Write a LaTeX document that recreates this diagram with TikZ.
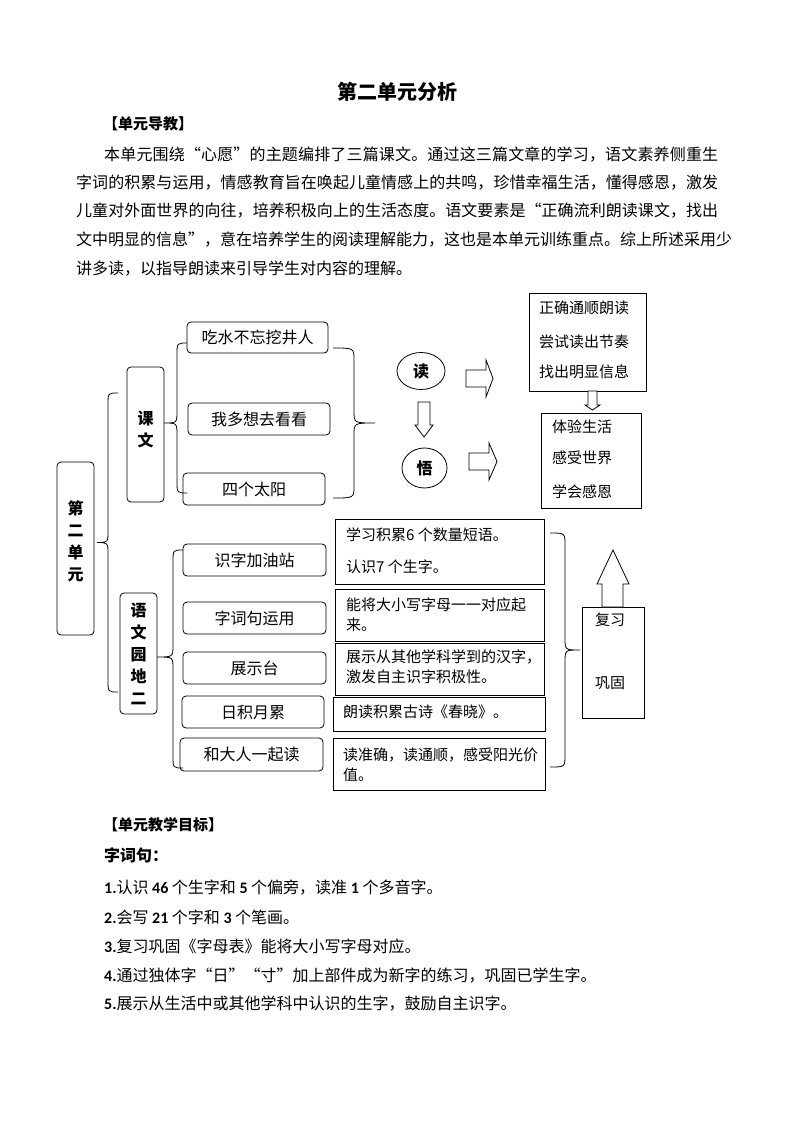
\documentclass[tikz,border=0pt]{standalone}
\usepackage{fontspec}
\setmainfont{Noto Sans CJK SC}
\newfontfamily\lat{Carlito}
\usetikzlibrary{shapes.geometric}
\newcommand\myfs[1]{\fontsize{#1}{#1}\selectfont}
\newcommand\dg[1]{{\lat\bfseries #1}}
% spread characters of a line over a given width
\def\spreadchars#1#2\relax{#1\spreadB#2\relax}
\def\spreadB#1{\ifx#1\relax\else\hskip0pt plus 1fil #1\expandafter\spreadB\fi}
\newcommand\jline[2]{\hbox to #1{\spreadchars#2\relax}}
% brace: #1 end x, #2 top y, #3 spine x, #4 tip x, #5 tip y, #6 bottom y
\newcommand\mybrace[6]{%
  \draw[ln] (#1,#2) .. controls (#3,#2) .. (#3,#2+12) -- (#3,#5-12)
    .. controls (#3,#5) .. (#4,#5) .. controls (#3,#5) .. (#3,#5+12)
    -- (#3,#6-12) .. controls (#3,#6) .. (#1,#6);}
\tikzset{
  ln/.style={draw=black, line width=0.8pt},
  rbox/.style n args={2}{ln, rounded corners=4pt, minimum width=#1, minimum height=#2, inner sep=0pt, font=\myfs{16}},
  sbox/.style n args={2}{ln, minimum width=#1, minimum height=#2, inner sep=0pt},
  vtxt/.style={align=center, font=\fontsize{16}{22}\selectfont\bfseries, inner sep=0pt},
  ltxt/.style={anchor=west, inner sep=0pt, font=\myfs{15}},
  ptxt/.style={anchor=west, inner sep=0pt, font=\myfs{16}},
  oval/.style={ln, ellipse, inner sep=0pt, font=\myfs{16}\bfseries},
  blk/.style={ln, fill=white}
}
\begin{document}
\begin{tikzpicture}[x=1pt,y=-1pt]
\useasboundingbox (0,0) rectangle (794,1123);
\fill[white] (0,0) rectangle (794,1123);

% ---- header text ----
\node[font=\myfs{20}\bfseries, inner sep=0pt] (title) at (397,92) {第二单元分析};
\node[anchor=west, inner sep=0pt, font=\myfs{15}\bfseries] (h1) at (103,124) {【单元导教】};
\node[ptxt] (p1) at (104,155) {\jline{614pt}{本单元围绕“心愿”的主题编排了三篇课文。通过这三篇文章的学习，语文素养侧重生}};
\node[ptxt] (p2) at (76,183) {\jline{642pt}{字词的积累与运用，情感教育旨在唤起儿童情感上的共鸣，珍惜幸福生活，懂得感恩，激发}};
\node[ptxt] (p3) at (76,211) {\jline{642pt}{儿童对外面世界的向往，培养积极向上的生活态度。语文要素是“正确流利朗读课文，找出}};
\node[ptxt] (p4) at (76,240) {\jline{642pt}{文中明显的信息”，意在培养学生的阅读理解能力，这也是本单元训练重点。综上所述采用少}};
\node[ptxt] (p5) at (76,269) {讲多读，以指导朗读来引导学生对内容的理解。};

% ---- diagram: left part ----
\node[rbox={37pt}{173pt}] (unit) at (75.5,548.5) {};
\node[vtxt] (unitT) at (75.5,541) {第\\二\\单\\元};
\mybrace{118}{393}{108}{97}{542.5}{692}

\node[rbox={37pt}{135pt}] (kewen) at (145.5,434.5) {};
\node[vtxt] (kewenT) at (145.5,429) {课\\文};
\mybrace{187}{343}{177}{164}{423}{493}

\node[rbox={141pt}{31pt}] (k1) at (257.5,337.5) {吃水不忘挖井人};
\node[rbox={142pt}{32pt}] (k2) at (259,419) {我多想去看看};
\node[rbox={142pt}{32pt}] (k3) at (254,489) {四个太阳};
\mybrace{333}{348}{354}{375}{423}{498}

\node[rbox={37pt}{121pt}] (yuwen) at (138.5,653.5) {};
\node[vtxt] (yuwenT) at (138.5,653.5) {语\\文\\园\\地\\二};
\mybrace{183}{550}{173}{157}{657}{768}

\node[rbox={143pt}{32pt}] (y1) at (254.5,560) {识字加油站};
\node[rbox={143pt}{32pt}] (y2) at (254.5,618) {字词句运用};
\node[rbox={143pt}{32pt}] (y3) at (254.5,668) {展示台};
\node[rbox={142pt}{32pt}] (y4) at (253,712) {日积月累};
\node[rbox={143pt}{33pt}] (y5) at (251.5,754.5) {和大人一起读};

% ---- right boxes of 语文园地 ----
\node[sbox={209pt}{65pt}] (r1) at (439.5,551.5) {};
\node[ltxt] (r1a) at (346,535) {学习积累6 个数量短语。};
\node[ltxt] (r1b) at (346,567) {认识7 个生字。};
\node[sbox={209pt}{52pt}] (r2) at (439.5,615) {};
\node[ltxt] (r2a) at (346,605) {能将大小写字母一一对应起};
\node[ltxt] (r2b) at (346,625) {来。};
\node[sbox={209pt}{52pt}] (r3) at (439.5,669) {};
\node[ltxt] (r3a) at (346,657) {展示从其他学科学到的汉字，};
\node[ltxt] (r3b) at (346,677) {激发自主识字积极性。};
\node[sbox={212pt}{34pt}] (r4) at (439,714) {};
\node[ltxt] (r4a) at (343,712) {朗读积累古诗《春晓》。};
\node[sbox={212pt}{52pt}] (r5) at (439,764) {};
\node[ltxt] (r5a) at (343,755) {读准确，读通顺，感受阳光价};
\node[ltxt] (r5b) at (343,775) {值。};
\mybrace{550}{533}{565}{580}{650}{767}

\node[sbox={62pt}{111pt}] (fx) at (613,662.5) {};
\node[font=\myfs{15}, inner sep=0pt] (fxa) at (610,620) {复习};
\node[font=\myfs{15}, inner sep=0pt] (fxb) at (610,683) {巩固};
\draw[blk] (602,607) -- (602,584) -- (597,584) -- (613,550) -- (629,584) -- (623,584) -- (623,607) -- cycle;

% ---- read / understand ----
\node[oval, minimum width=48pt, minimum height=37pt] (du) at (421,371) {读};
\node[oval, minimum width=45pt, minimum height=40pt] (wu) at (424.5,468) {悟};
\draw[blk] (418,402) -- (430,402) -- (430,425) -- (433,425) -- (424,437) -- (415,425) -- (418,425) -- cycle;
\draw[blk] (466,370) -- (486,370) -- (486,360) -- (493,378.5) -- (486,397) -- (486,387) -- (466,387) -- cycle;
\draw[blk] (469,453) -- (489,453) -- (489,443) -- (497,461.5) -- (489,480) -- (489,470) -- (469,470) -- cycle;

\node[sbox={117pt}{98pt}] (tr1) at (587.5,342) {};
\node[ltxt] (tr1a) at (539,308) {正确通顺朗读};
\node[ltxt] (tr1b) at (539,342) {尝试读出节奏};
\node[ltxt] (tr1c) at (539,372) {找出明显信息};
\draw[blk] (588,391) -- (597,391) -- (597,405) -- (600,405) -- (592.5,410) -- (585,405) -- (588,405) -- cycle;
\node[sbox={100pt}{95pt}] (tr2) at (591,460.5) {};
\node[ltxt] (tr2a) at (552,427) {体验生活};
\node[ltxt] (tr2b) at (552,458) {感受世界};
\node[ltxt] (tr2c) at (552,492) {学会感恩};

% ---- objectives ----
\node[anchor=west, inner sep=0pt, font=\myfs{15}\bfseries] (h2) at (103,825) {【单元教学目标】};
\node[anchor=west, inner sep=0pt, font=\myfs{16}\bfseries] (h3) at (104,855) {字词句：};
\node[ptxt] (o1) at (104,888) {\dg{1.}认识 \dg{46} 个生字和 \dg{5} 个偏旁，读准 \dg{1} 个多音字。};
\node[ptxt] (o2) at (104,917) {\dg{2.}会写 \dg{21} 个字和 \dg{3} 个笔画。};
\node[ptxt] (o3) at (104,946) {\dg{3.}复习巩固《字母表》能将大小写字母对应。};
\node[ptxt] (o4) at (104,976) {\dg{4.}通过独体字“日”“寸”加上部件成为新字的练习，巩固已学生字。};
\node[ptxt] (o5) at (104,1004) {\dg{5.}展示从生活中或其他学科中认识的生字，鼓励自主识字。};
\end{tikzpicture}
\end{document}
